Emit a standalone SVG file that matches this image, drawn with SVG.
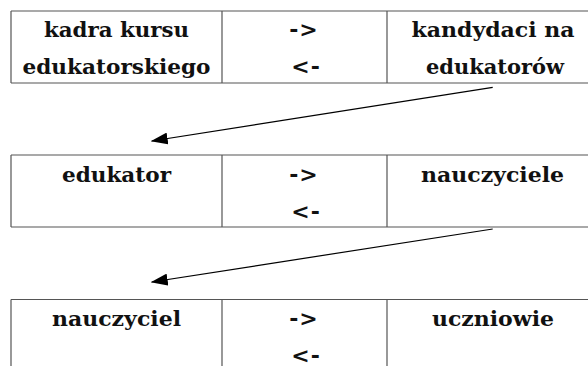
<svg xmlns="http://www.w3.org/2000/svg" width="588" height="366" viewBox="0 0 588 366">
  <style>
    .grid { fill: none; stroke: #555; stroke-width: 1.2; }
    .lbl { font-family: "DejaVu Serif", "Liberation Serif", serif; font-weight: bold; font-size: 21px; fill: #111; text-anchor: middle; }
    .op { font-family: "DejaVu Sans", Verdana, sans-serif; font-weight: bold; font-size: 22px; fill: #111; text-anchor: middle; letter-spacing: 1px; }
    .conn { stroke: #000; stroke-width: 1.2; fill: none; marker-end: url(#head); }
  </style>
  <defs>
    <marker id="head" markerUnits="userSpaceOnUse" markerWidth="17" markerHeight="12" refX="16" refY="6" orient="auto">
      <path d="M0,0 L17,6 L0,12 z" fill="#000"/>
    </marker>
  </defs>
  <rect width="588" height="366" fill="#fff"/>

  <g id="row1">
    <path class="grid" d="M11,11 H600 M11,83 H600 M11,11 V83 M222,11 V83 M387,11 V83"/>
    <text class="lbl" x="116.5" y="37" textLength="145" lengthAdjust="spacingAndGlyphs">kadra kursu</text>
    <text class="lbl" x="116.5" y="74" textLength="188" lengthAdjust="spacingAndGlyphs">edukatorskiego</text>
    <text class="op" x="304" y="37">-&gt;</text>
    <text class="op" x="306" y="73.5">&lt;-</text>
    <text class="lbl" x="493" y="37" textLength="163" lengthAdjust="spacingAndGlyphs">kandydaci na</text>
    <text class="lbl" x="495" y="74" textLength="138" lengthAdjust="spacingAndGlyphs">edukatorów</text>
  </g>

  <g id="row2">
    <path class="grid" d="M11,155 H600 M11,227 H600 M11,155 V227 M222,155 V227 M387,155 V227"/>
    <text class="lbl" x="116.5" y="182" textLength="109" lengthAdjust="spacingAndGlyphs">edukator</text>
    <text class="op" x="304" y="182">-&gt;</text>
    <text class="op" x="306" y="218.5">&lt;-</text>
    <text class="lbl" x="492.5" y="182" textLength="143" lengthAdjust="spacingAndGlyphs">nauczyciele</text>
  </g>

  <g id="row3">
    <path class="grid" d="M11,299.5 H600 M11,299.5 V370 M222,299.5 V370 M387,299.5 V370"/>
    <text class="lbl" x="116.5" y="326" textLength="129" lengthAdjust="spacingAndGlyphs">nauczyciel</text>
    <text class="op" x="304" y="326">-&gt;</text>
    <text class="op" x="306" y="362.5">&lt;-</text>
    <text class="lbl" x="493" y="326" textLength="122" lengthAdjust="spacingAndGlyphs">uczniowie</text>
  </g>

  <g id="connectors">
    <line class="conn" x1="492.7" y1="87.3" x2="151.7" y2="141"/>
    <line class="conn" x1="492.7" y1="229" x2="151.7" y2="282"/>
  </g>
</svg>
